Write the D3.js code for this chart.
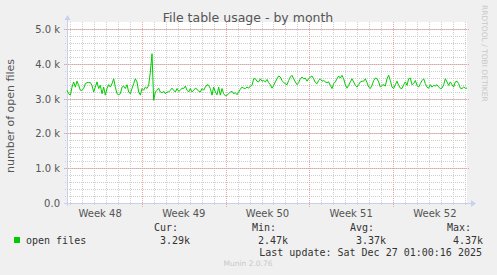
<!DOCTYPE html>
<meta charset="utf-8">
<style>
body { margin: 0; background: #f0f0f0; }
svg { display: block; font-family: "DejaVu Sans", sans-serif; }
.mono { font-family: "DejaVu Sans Mono", monospace; font-size: 10px; fill: #333; }
.tick-label { font-size: 10px; fill: #555; }
</style>
<svg width="497" height="275"></svg>
<script src="https://d3js.org/d3.v7.min.js"></script>
<script>

// open files, one sample per ~3.4h, from late Nov to the last update
var weeks47to48 = [3240,3140,3100,3330,3480,3330,3500,3380,3240,3240,
  3290,3430,3460,3460,3460,3380,3190,3330,3480,3290,
  3380,3140,3330,3100,3290,3400,3330,3430,3570,3330,
  3140,3110,3140,3330,3360,3290,3400,3190,3140,3290,
  3430,3570,3480,3190,3100,3290,3240,3330,3290,3380,
  3760,4290,2950,3190,3240,3300,3190,3170,3210,3140,
  3190];
var weeks49to50 = [3190,3240,3300,3240,3190,3290,3210,3240,3300,3290,
  3360,3240,3190,3290,3190,3240,3300,3270,3210,3190,
  3290,3240,3330,3400,3380,3290,3100,3330,3190,3110,
  3330,3100,3290,3140,3080,3100,3140,3190,3210,3140,
  3170,3110,3190,3270,3330,3300,3290,3330,3300,3360,
  3380,3570,3570,3500,3480,3570,3500];
var weeks50to51 = [3520,3480,3550,3460,3400,3300,3380,3480,3570,3650,
  3620,3520,3460,3430,3400,3520,3620,3670,3570,3480,
  3400,3460,3570,3620,3570,3590,3500,3570,3620,3650,
  3570,3460,3430,3520,3570,3500,3520,3480,3460,3480,
  3380,3290,3430,3480,3570,3650,3590,3670,3570,3400,
  3300,3380,3480,3570,3480,3380,3330,3400,3480,3500];
var weeks51to52 = [3500,3570,3460,3330,3290,3380,3520,3590,3570,3480,
  3330,3380,3400,3360,3570,3670,3520,3330,3290,3400,
  3500,3380,3300,3290,3400,3480,3380,3570,3590,3400,
  3430,3520,3380,3330,3430,3520,3570,3430,3330,3300,
  3400,3330,3380,3360,3400,3330,3290,3300,3400,3570,
  3480,3380,3480,3400,3330,3480,3500,3430,3300,3290,
  3330,3300,3300];

var yTicks = [0, 1000, 2000, 3000, 4000, 5000];
var yTickLabels = ["0.0", "1.0 k", "2.0 k", "3.0 k", "4.0 k", "5.0 k"];
var weekLabels = ["Week 48", "Week 49", "Week 50", "Week 51", "Week 52"];
var legendHeads = ["Cur:", "Min:", "Avg:", "Max:"];
var legendValues = ["3.29k", "2.47k", "3.37k", "4.37k"];

var values = weeks47to48.concat(weeks49to50, weeks50to51, weeks51to52);
var start = Date.UTC(2025, 10, 24, 17, 24),
    end = Date.UTC(2025, 11, 28, 4, 34);
var step = (end - start) / (values.length - 1);
var data = values.map(function(v, i) { return { t: new Date(start + i * step), v: v }; });

var svg = d3.select("svg");
var pl = 67, pr = 467, pt = 29, pb = 203;

var x = d3.scaleUtc().domain([new Date(start), new Date(end)]).range([pl, pr]);
var y = d3.scaleLinear().domain([0, 5000]).range([pb, pt]);

svg.append("rect")
    .attr("x", pl).attr("y", pt - 7)
    .attr("width", pr - pl).attr("height", pb - pt + 7)
    .attr("fill", "#fff");

// minor grid
var g = svg.append("g").attr("shape-rendering", "crispEdges");
g.selectAll(".vmin")
    .data(x.ticks(d3.utcDay))
  .enter().append("line")
    .attr("x1", function(d) { return Math.round(x(d)) + 0.5; })
    .attr("x2", function(d) { return Math.round(x(d)) + 0.5; })
    .attr("y1", pt - 7).attr("y2", pb + 3)
    .attr("stroke", "#cfcfcf").attr("stroke-dasharray", "1,1");
g.selectAll(".hmin")
    .data(d3.range(200, 5001, 200))
  .enter().append("line")
    .attr("x1", pl - 2).attr("x2", pr)
    .attr("y1", function(d) { return Math.round(y(d)) + 0.5; })
    .attr("y2", function(d) { return Math.round(y(d)) + 0.5; })
    .attr("stroke", "#cfcfcf").attr("stroke-dasharray", "1,1");

// major grid
var mondays = x.ticks(d3.utcMonday);
g.selectAll(".vmaj")
    .data(mondays)
  .enter().append("line")
    .attr("x1", function(d) { return Math.round(x(d)) + 0.5; })
    .attr("x2", function(d) { return Math.round(x(d)) + 0.5; })
    .attr("y1", pt - 7).attr("y2", pb + 4)
    .attr("stroke", "#e8a4a4").attr("stroke-dasharray", "1,1");
g.selectAll(".hmaj")
    .data(yTicks.slice(1))
  .enter().append("line")
    .attr("x1", pl - 3).attr("x2", pr + 3)
    .attr("y1", function(d) { return Math.round(y(d)) + 0.5; })
    .attr("y2", function(d) { return Math.round(y(d)) + 0.5; })
    .attr("stroke", "#e8a4a4").attr("stroke-dasharray", "1,1");

// axes
g.append("line").attr("x1", pl + 0.5).attr("x2", pl + 0.5)
    .attr("y1", pb + 3).attr("y2", pt - 10).attr("stroke", "#c8d0f0");
g.append("line").attr("x1", pl - 3).attr("x2", pr + 4)
    .attr("y1", pb + 0.5).attr("y2", pb + 0.5).attr("stroke", "#c8d0f0");
svg.append("path").attr("d", "M" + (pl - 2.5) + "," + (pt - 9) + "l3,-5l3,5z").attr("fill", "#c8d0f0");
svg.append("path").attr("d", "M" + (pr + 4) + "," + (pb - 3) + "l5,3.5l-5,3.5z").attr("fill", "#c8d0f0");

svg.selectAll(".ylab")
    .data(yTicks)
  .enter().append("text")
    .attr("class", "tick-label")
    .attr("x", 60).attr("y", function(d) { return y(d) + 4; })
    .attr("text-anchor", "end")
    .text(function(d, i) { return yTickLabels[i]; });

// week labels sit mid-week
var weekMids = [d3.utcDay.offset(mondays[0], -7)].concat(mondays).map(function(d) {
  return d3.utcHour.offset(d, 84);
});
svg.selectAll(".xlab")
    .data(weekLabels)
  .enter().append("text")
    .attr("class", "tick-label")
    .attr("x", function(d, i) { return x(weekMids[i]); })
    .attr("y", 217)
    .attr("text-anchor", "middle")
    .text(function(d) { return d; });

// series
svg.append("path")
    .datum(data)
    .attr("fill", "none")
    .attr("stroke", "#00cc00")
    .attr("stroke-width", 1)
    .attr("d", d3.line().x(function(d) { return x(d.t); }).y(function(d) { return y(d.v); }));

// title and labels
svg.append("text").attr("x", 248).attr("y", 22).attr("text-anchor", "middle")
    .attr("font-size", 12.5).attr("fill", "#555").text("File table usage - by month");
svg.append("text").attr("transform", "translate(14,116) rotate(-90)")
    .attr("text-anchor", "middle").attr("font-size", 11).attr("fill", "#555")
    .text("number of open files");
svg.append("text").attr("transform", "translate(482,5) rotate(90)")
    .attr("font-size", 7.5).attr("fill", "#c8c8c8").text("RRDTOOL / TOBI OETIKER");

// legend
svg.append("rect").attr("x", 14).attr("y", 237).attr("width", 6).attr("height", 6).attr("fill", "#00cc00");
svg.append("text").attr("class", "mono").attr("x", 26).attr("y", 243.5).text("open files");
var cols = [154, 252, 350, 447];
svg.selectAll(".lh").data(legendHeads).enter().append("text")
    .attr("class", "mono").attr("x", function(d, i) { return cols[i]; }).attr("y", 231)
    .text(function(d) { return d; });
svg.selectAll(".lv").data(legendValues).enter().append("text")
    .attr("class", "mono").attr("x", function(d, i) { return cols[i] + 6; }).attr("y", 243.5)
    .text(function(d) { return d; });
svg.append("text").attr("class", "mono").attr("x", 482).attr("y", 255.5).attr("text-anchor", "end")
    .text("Last update: Sat Dec 27 01:00:16 2025");
svg.append("text").attr("x", 248).attr("y", 266).attr("text-anchor", "middle")
    .attr("font-size", 7.5).attr("fill", "#c8c8c8").text("Munin 2.0.76");

</script>
